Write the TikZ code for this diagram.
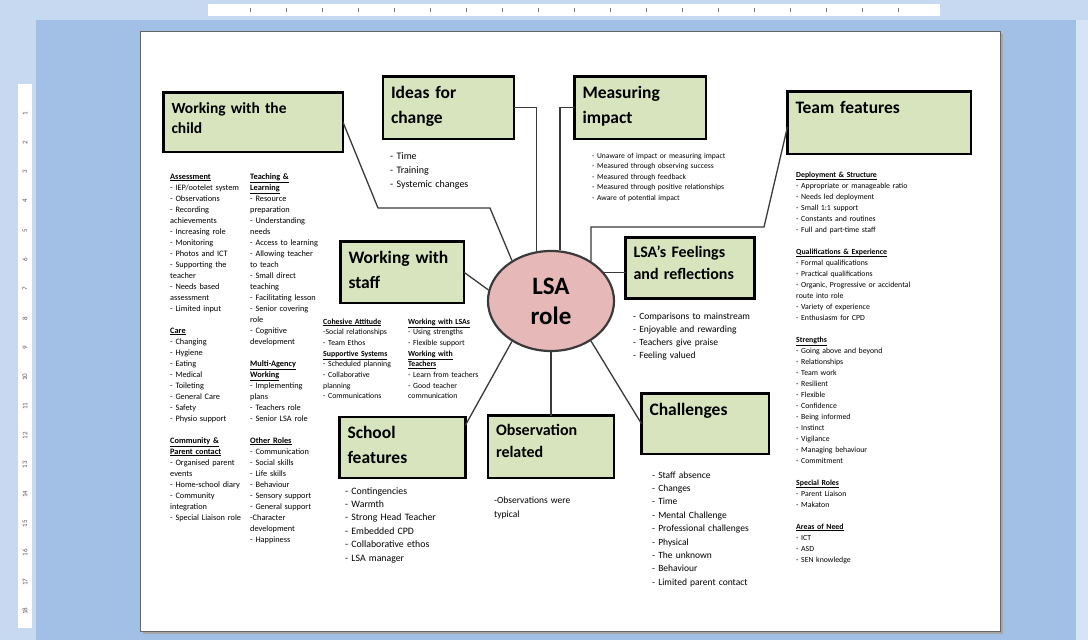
\documentclass[tikz,border=0pt]{standalone}
\usepackage{fontspec}
\setmainfont{Carlito}
\usepackage{tikz}
\usetikzlibrary{shapes.geometric}
\definecolor{wordblue}{HTML}{A2BFE6}
\definecolor{rulerblue}{HTML}{C6D9F1}
\definecolor{boxgreen}{HTML}{D7E4BD}
\definecolor{rolepink}{HTML}{E6B9B8}
\definecolor{linegray}{HTML}{3A3A3A}
\newcommand\listhead[1]{\underline{\textbf{#1}}}

\begin{document}
\begin{tikzpicture}[x=1pt, y=-1pt,
    titlebox/.style n args={3}{draw, line width=2.8pt, fill=boxgreen,
                outer sep=0pt, anchor=north west, align=left,
                inner xsep=8pt, inner ysep=0pt,
                text width=#1, text height=#2, text depth=#3,
                font=\bfseries\fontsize{17.5}{25}\selectfont},
    list/.style={anchor=base west, align=left, text width=150pt, inner sep=0pt},
    link/.style={draw=linegray, line width=1.3pt},
  ]
  \useasboundingbox (0, 0) rectangle (1088, 640);
  % word window
  \fill[wordblue] (0, 0) rectangle (1088, 640);
  \fill[rulerblue] (0, 0) rectangle (1088, 20);
  \fill[white] (208, 4) rectangle (940, 16);
  \foreach \t in {0,...,18} \draw[gray] (250+\t*36, 8) -- (250+\t*36, 12);
  \fill[rulerblue] (0, 20) rectangle (36, 640);
  \fill[white] (18, 84) rectangle (32, 628);
  \foreach \k in {1,...,18}
    \node[rotate=90, font=\fontsize{7}{7}\selectfont, text=gray!70!black,
          inner sep=0pt] (tick\k) at (25, 84+\k*29.3) {\k};
  \fill[rulerblue!70!white] (1076, 20) rectangle (1088, 640);
  \fill[black!35] (143, 34) rectangle (1003, 634);
  \fill[white, draw=black!60, line width=0.5pt] (140, 31) rectangle (1000, 631);

  % title boxes
  \node[titlebox={163.5pt}{20.5pt}{39pt}, font=\bfseries\fontsize{15.5}{20}\selectfont]
    (child) at (163.5, 92.5) {Working with the\\child};
  \node[titlebox={115pt}{21.5pt}{41pt}] (ideas) at (383, 76.5) {Ideas for\\change};
  \node[titlebox={115.5pt}{21.5pt}{41pt}] (impact) at (574.5, 76.5) {Measuring\\impact};
  \node[titlebox={167.5pt}{21.5pt}{41pt}] (team) at (787.5, 91.5) {Team features};
  \node[titlebox={107.5pt}{21.5pt}{40pt}] (staff) at (340.5, 241.5) {Working with\\staff};
  \node[titlebox={113pt}{20pt}{41pt}, font=\bfseries\fontsize{16}{21.5}\selectfont]
    (feel) at (625.5, 237.5) {LSA’s Feelings\\and reflections};
  \node[titlebox={110pt}{21pt}{40pt}] (school) at (339.5, 417) {School\\features};
  \node[titlebox={110pt}{19.5pt}{43pt}, font=\bfseries\fontsize{16}{22}\selectfont]
    (obs) at (488, 415.5) {Observation\\related};
  \node[titlebox={111.5pt}{21.5pt}{39pt}] (chall) at (641.5, 393.5) {Challenges};

  % centre
  \node[ellipse, draw=linegray, line width=2.2pt, fill=rolepink,
        minimum width=126pt, minimum height=100pt, align=center,
        font=\bfseries\fontsize{25}{30}\selectfont] (role) at (551, 301) {LSA\\role};

  % connectors
  \coordinate (childA) at (378, 208);
  \coordinate (childB) at (490, 208);
  \coordinate (teamA) at (764, 227);
  \draw[link] (child.east) -- (childA) -- (childB) -- (role.134);
  \draw[link] (ideas.east) -| (role.106);
  \draw[link] (impact.west) -| (role.80);
  \draw[link] ([yshift=-4pt]team.west) -- (teamA) -- (role.45 |- teamA) -- (role.45);
  \draw[link] (staff.east) -- (role.170);
  \draw[link] (role.28) -- (role.28 -| feel.west);
  \draw[link] ([yshift=-8pt]school.north east) -- (role.226);
  \draw[link] (role.south) -- (obs.north);
  \draw[link] (role.315) -- (chall.west);

  % lists
  \node[list, font=\fontsize{8.3}{11}\selectfont] (childcare) at (170, 179) {%
    \listhead{Assessment}\\
    - IEP/ootelet system\\
    - Observations\\
    - Recording\\
    achievements\\
    - Increasing role\\
    - Monitoring\\
    - Photos and ICT\\
    - Supporting the\\
    teacher\\
    - Needs based\\
    assessment\\
    - Limited input\\[11pt]
    \listhead{Care}\\
    - Changing\\
    - Hygiene\\
    - Eating\\
    - Medical\\
    - Toileting\\
    - General Care\\
    - Safety\\
    - Physio support\\[11pt]
    \listhead{Community \&}\\
    \listhead{Parent contact}\\
    - Organised parent\\
    events\\
    - Home-school diary\\
    - Community\\
    integration\\
    - Special Liaison role};
  \node[list, font=\fontsize{8.3}{11}\selectfont] (childteach) at (250, 179) {%
    \listhead{Teaching \&}\\
    \listhead{Learning}\\
    - Resource\\
    preparation\\
    - Understanding\\
    needs\\
    - Access to learning\\
    - Allowing teacher\\
    to teach\\
    - Small direct\\
    teaching\\
    - Facilitating lesson\\
    - Senior covering\\
    role\\
    - Cognitive\\
    development\\[11pt]
    \listhead{Multi-Agency}\\
    \listhead{Working}\\
    - Implementing\\
    plans\\
    - Teachers role\\
    - Senior LSA role\\[11pt]
    \listhead{Other Roles}\\
    - Communication\\
    - Social skills\\
    - Life skills\\
    - Behaviour\\
    - Sensory support\\
    - General support\\
    -Character\\
    development\\
    - Happiness};
  \node[list, font=\fontsize{10}{14}\selectfont] (ideaslist) at (390, 159) {%
    - Time\\
    - Training\\
    - Systemic changes};
  \node[list, text width=180pt, font=\fontsize{7.6}{10.5}\selectfont] (impactlist) at (592, 158) {%
    - Unaware of impact or measuring impact\\
    - Measured through observing success\\
    - Measured through feedback\\
    - Measured through positive relationships\\
    - Aware of potential impact};
  \node[list, font=\fontsize{7.8}{11}\selectfont] (teamlist) at (796, 177) {%
    \listhead{Deployment \& Structure}\\
    - Appropriate or manageable ratio\\
    - Needs led deployment\\
    - Small 1:1 support\\
    - Constants and routines\\
    - Full and part-time staff\\[11pt]
    \listhead{Qualifications \& Experience}\\
    - Formal qualifications\\
    - Practical qualifications\\
    - Organic, Progressive or accidental\\
    route into role\\
    - Variety of experience\\
    - Enthusiasm for CPD\\[11pt]
    \listhead{Strengths}\\
    - Going above and beyond\\
    - Relationships\\
    - Team work\\
    - Resilient\\
    - Flexible\\
    - Confidence\\
    - Being informed\\
    - Instinct\\
    - Vigilance\\
    - Managing behaviour\\
    - Commitment\\[11pt]
    \listhead{Special Roles}\\
    - Parent Liaison\\
    - Makaton\\[11pt]
    \listhead{Areas of Need}\\
    - ICT\\
    - ASD\\
    - SEN knowledge};
  \node[list, font=\fontsize{7.8}{10.7}\selectfont] (stafflistA) at (323, 324) {%
    \listhead{Cohesive Attitude}\\
    -Social relationships\\
    - Team Ethos\\
    \listhead{Supportive Systems}\\
    - Scheduled planning\\
    - Collaborative\\
    planning\\
    - Communications};
  \node[list, font=\fontsize{7.8}{10.7}\selectfont] (stafflistB) at (408, 324) {%
    \listhead{Working with LSAs}\\
    - Using strengths\\
    - Flexible support\\
    \listhead{Working with}\\
    \listhead{Teachers}\\
    - Learn from teachers\\
    - Good teacher\\
    communication};
  \node[list, font=\fontsize{9.5}{13.3}\selectfont] (feellist) at (633, 319) {%
    - Comparisons to mainstream\\
    - Enjoyable and rewarding\\
    - Teachers give praise\\
    - Feeling valued};
  \node[list, font=\fontsize{9.5}{13.4}\selectfont] (challlist) at (652, 478) {%
    - Staff absence\\
    - Changes\\
    - Time\\
    - Mental Challenge\\
    - Professional challenges\\
    - Physical\\
    - The unknown\\
    - Behaviour\\
    - Limited parent contact};
  \node[list, font=\fontsize{9.8}{13.4}\selectfont] (schoollist) at (345, 494) {%
    - Contingencies\\
    - Warmth\\
    - Strong Head Teacher\\
    - Embedded CPD\\
    - Collaborative ethos\\
    - LSA manager};
  \node[list, font=\fontsize{9.5}{14}\selectfont] (obslist) at (494, 503) {%
    -Observations were\\
    typical};
\end{tikzpicture}
\end{document}
